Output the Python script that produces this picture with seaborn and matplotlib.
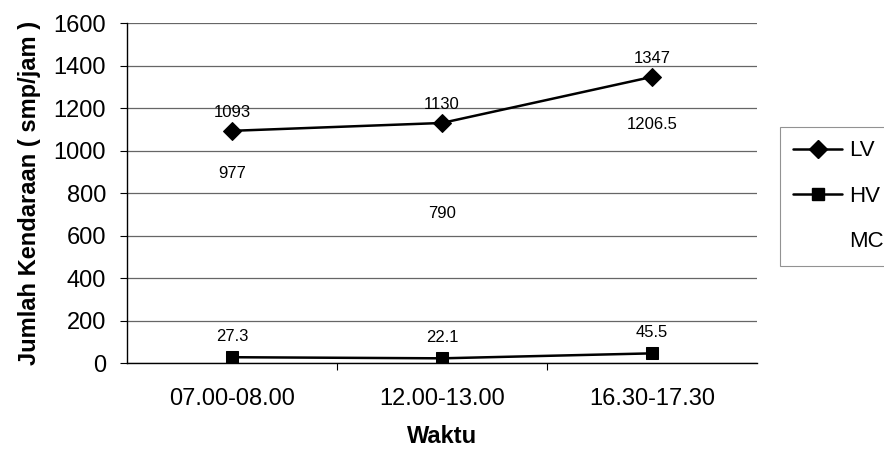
# %%
import matplotlib
matplotlib.use('Agg')
import matplotlib.pyplot as plt
from matplotlib.lines import Line2D
import seaborn as sns

# %%
waktu = ['07.00-08.00', '12.00-13.00', '16.30-17.30']
lv = [1093, 1130, 1347]
hv = [27.3, 22.1, 45.5]
mc = [977, 790, 1206.5]
y_ticks = [0, 200, 400, 600, 800, 1000, 1200, 1400, 1600]

# %%
sns.set_style('white')
plt.rcParams['font.family'] = ['Liberation Sans', 'DejaVu Sans']
plt.rcParams['text.color'] = 'black'
plt.rcParams['axes.labelcolor'] = 'black'
plt.rcParams['xtick.color'] = 'black'
plt.rcParams['ytick.color'] = 'black'

fig = plt.figure(figsize=(8.84, 4.49), dpi=100)
ax = fig.add_axes([0.1437, 0.1915, 0.7127, 0.757])

sns.lineplot(x=waktu, y=lv, marker='D', markersize=9, color='black', linewidth=1.8,
             markeredgecolor='black', ax=ax)
sns.lineplot(x=waktu, y=hv, marker='s', markersize=9, color='black', linewidth=1.8,
             markeredgecolor='black', ax=ax)

# label angka (MC cuma label, tanpa garis)
for i, v in enumerate(lv):
    ax.annotate(f'{v:g}', (i, v), xytext=(0, 13), textcoords='offset points',
                ha='center', va='center', fontsize=12)
for i, v in enumerate(hv):
    ax.annotate(f'{v:g}', (i, v), xytext=(0, 15), textcoords='offset points',
                ha='center', va='center', fontsize=12)
for i, v in enumerate(mc):
    ax.annotate(f'{v:g}', (i, v), xytext=(0, -13), textcoords='offset points',
                ha='center', va='center', fontsize=12)

ax.set_xlim(-0.5, 2.5)
ax.set_ylim(0, 1600)
ax.set_yticks(y_ticks)
ax.yaxis.grid(True, color='#666666', linewidth=0.9)
ax.set_axisbelow(True)

ax.set_xticks([0.5, 1.5], minor=True)
ax.tick_params(axis='x', which='major', length=0, pad=18, labelsize=17)
ax.tick_params(axis='x', which='minor', length=5, width=0.8, direction='out', bottom=True)
ax.tick_params(axis='y', length=5, width=0.8, direction='out', left=True, pad=10, labelsize=17)

for s in ['top', 'right']:
    ax.spines[s].set_visible(False)
for s in ['left', 'bottom']:
    ax.spines[s].set_color('black')
    ax.spines[s].set_linewidth(1)

ax.set_xlabel('Waktu', fontsize=17, fontweight='bold', labelpad=11)
ax.set_ylabel('Jumlah Kendaraan ( smp/jam )', fontsize=17, fontweight='bold', labelpad=9)

handles = [
    Line2D([], [], color='black', marker='D', markersize=9, linewidth=1.8),
    Line2D([], [], color='black', marker='s', markersize=9, linewidth=1.8),
    Line2D([], [], linestyle='none'),
]
leg = fig.legend(handles, ['LV', 'HV', 'MC'], loc='upper left',
                 bbox_to_anchor=(780 / 884, 1 - 127 / 449), fontsize=16,
                 frameon=True, fancybox=False, handlelength=2.2, handletextpad=0.3,
                 labelspacing=1.1, borderpad=0.6, borderaxespad=0)
leg.get_frame().set_edgecolor('#777777')
leg.get_frame().set_linewidth(0.8)

fig.savefig('out.png', dpi=100)
